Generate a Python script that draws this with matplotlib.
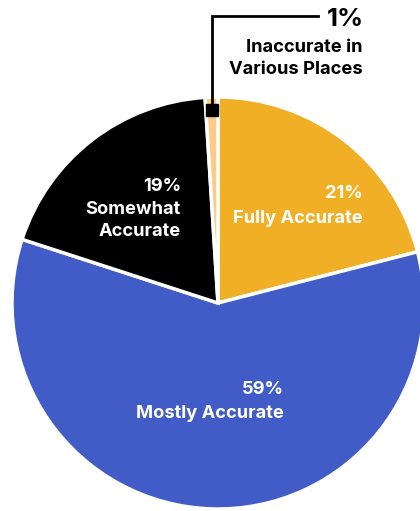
import numpy as np
import matplotlib
matplotlib.use("Agg")
import matplotlib.pyplot as plt

plt.rcParams["font.family"] = ["Inter", "DejaVu Sans"]

# Accuracy breakdown, clockwise from 12 o'clock
categories = ["Fully Accurate", "Mostly Accurate", "Somewhat Accurate",
              "Inaccurate in Various Places"]
shares = [21, 59, 19, 1]
colors = ["#F0AF24", "#415CC6", "#000000", "#FDCB86"]

W, H = 420, 511
fig = plt.figure(figsize=(W / 100, H / 100), dpi=100)
ax = fig.add_axes([0, 0, 1, 1])

cx, cy, R = 218, 208, 206
wedges, _ = ax.pie(shares, colors=colors, startangle=90, counterclock=False,
                   center=(cx, cy), radius=R,
                   wedgeprops=dict(edgecolor="white", linewidth=2.5))
ax.set_xlim(0, W)
ax.set_ylim(0, H)
ax.set_aspect("auto")
ax.axis("off")

fs = 13.2
lab = dict(color="white", fontsize=fs, fontweight="bold", ha="right",
           va="baseline")
ax.text(181, H - 191, f"{shares[2]}%", **lab)
ax.text(181, H - 214, "Somewhat", **lab)
ax.text(181, H - 236, "Accurate", **lab)
ax.text(363, H - 198, f"{shares[0]}%", **lab)
ax.text(363, H - 223, categories[0], **lab)
ax.text(284, H - 394, f"{shares[1]}%", **lab)
ax.text(284, H - 418, categories[1], **lab)

# callout for the thin slice
w = wedges[3]
mid = np.deg2rad((w.theta1 + w.theta2) / 2)
mx = cx + 0.937 * R * np.cos(mid)
my = cy + 0.937 * R * np.sin(mid)
top = H - 16
ax.plot([mx, mx, 318], [my, top, top], color="black", lw=2,
        solid_joinstyle="miter", zorder=5)
ax.plot(mx, my, marker="s", ms=8.5, color="black", zorder=6)
ax.text(364, H - 26, f"{shares[3]}%", color="black", fontsize=18.5,
        fontweight="bold", ha="right", va="baseline")
ax.text(363, H - 52, "Inaccurate in", color="black", fontsize=fs,
        fontweight="bold", ha="right", va="baseline")
ax.text(363, H - 74, "Various Places", color="black", fontsize=fs,
        fontweight="bold", ha="right", va="baseline")

fig.savefig("out.png", dpi=100)
